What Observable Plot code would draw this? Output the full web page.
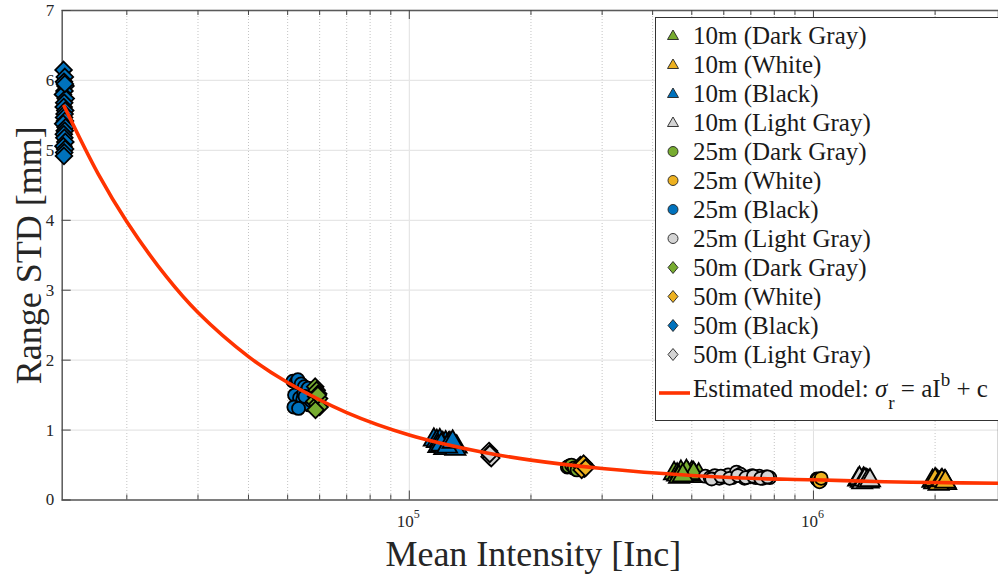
<!DOCTYPE html>
<html>
<head>
<meta charset="utf-8">
<script src="https://cdn.jsdelivr.net/npm/d3@7"></script>
<script src="https://cdn.jsdelivr.net/npm/@observablehq/plot@0.6"></script>
<style>
  html, body { margin: 0; padding: 0; background: #fff; overflow: hidden; }
  #wrap { position: relative; width: 998px; height: 576px; font-family: "Liberation Serif", "Times New Roman", serif; color: #262626; }
  #legend { position: absolute; left: 655px; top: 17px; width: 345px; height: 404px; background: #fff;
            border-top: 1px solid #333; border-left: 1px solid #333; border-bottom: 1px solid #333; box-sizing: border-box; }
  .row { position: absolute; left: 0; height: 29px; line-height: 29px; font-size: 25px; white-space: nowrap; color: #1a1a1a; font-family: "Liberation Serif", serif; }
  .row svg { position: absolute; left: 10px; top: 7px; }
  .row span.t { position: absolute; left: 37px; top: 0; }
</style>
</head>
<body>
<div id="wrap"><div id="legend"></div></div>
<script>
// ---------- Data ----------
const seriesNames = [
  "10m (Dark Gray)", "10m (White)", "10m (Black)", "10m (Light Gray)",
  "25m (Dark Gray)", "25m (White)", "25m (Black)", "25m (Light Gray)",
  "50m (Dark Gray)", "50m (White)", "50m (Black)", "50m (Light Gray)"
];
const seriesFill = ["#77AC30","#EDB120","#0072BD","#D4D4D4","#77AC30","#EDB120","#0072BD","#D4D4D4","#77AC30","#EDB120","#0072BD","#D4D4D4"];
const seriesSymbol = ["triangle","triangle","triangle","triangle","circle","circle","circle","circle","diamond2","diamond2","diamond2","diamond2"];

// 10 m
const i10DarkGray = [452000,460000,470000,480000,490000,500000,510000,520000,465000,485000,505000,475000];
const s10DarkGray = [0.38,0.36,0.40,0.35,0.37,0.39,0.34,0.36,0.33,0.41,0.38,0.35];
const i10White = [1970000,1990000,2010000,2030000,2050000,2070000,2090000,2110000,2130000,2000000,2040000,2080000,2120000];
const s10White = [0.27,0.25,0.28,0.26,0.24,0.27,0.25,0.26,0.24,0.29,0.23,0.28,0.26];
const i10Black = [115000,117000,119000,121000,123000,125000,127000,129000,131000,118000,122000,126000,130000,120000,124000,128000];
const s10Black = [0.86,0.84,0.85,0.81,0.82,0.80,0.79,0.78,0.76,0.77,0.74,0.81,0.73,0.79,0.76,0.83];
const i10LightGray = [1290000,1310000,1330000,1350000,1370000,1300000,1320000,1340000,1360000,1380000];
const s10LightGray = [0.29,0.27,0.30,0.28,0.26,0.31,0.25,0.29,0.27,0.28];
// 25 m
const i25DarkGray = [246000,250000,254000,258000,262000,248000,252000,256000,260000];
const s25DarkGray = [0.47,0.49,0.46,0.44,0.45,0.48,0.50,0.46,0.43];
const i25White = [1020000,1030000,1040000,1025000,1035000,1045000];
const s25White = [0.30,0.28,0.27,0.29,0.26,0.31];
const i25Black = [51500,52500,53000,54000,55000,56000,57000,52000,53500,54500,55500,56500,51800,53200,54800,56200,57200,55200];
const s25Black = [1.70,1.68,1.72,1.66,1.62,1.58,1.55,1.50,1.46,1.44,1.40,1.36,1.33,1.31,1.52,1.60,1.42,1.48];
const i25LightGray = [540000,555000,570000,585000,600000,615000,630000,645000,660000,675000,690000,705000,720000,735000,750000,765000,780000,560000,590000,620000,650000,680000,710000,740000,770000];
const s25LightGray = [0.34,0.32,0.35,0.31,0.33,0.36,0.32,0.40,0.37,0.31,0.33,0.35,0.32,0.34,0.31,0.33,0.32,0.30,0.34,0.31,0.35,0.32,0.34,0.31,0.33];
// 50 m
const i50DarkGray = [58500,59000,59500,58800,59800,58200,59200,60000,58600,59400];
const s50DarkGray = [1.62,1.57,1.52,1.48,1.45,1.41,1.37,1.33,1.29,1.50];
const i50White = [265000,268000,271000,274000,267000,270000,273000];
const s50White = [0.50,0.47,0.45,0.48,0.43,0.52,0.46];
const i50Black = [13950,14050,13980,14100,14020,13900,14120,14000,13960,14080,14030,13990,14060,13920,14110,14040,13970,14010,14090,13940,14070,14000,13980,14050];
const s50Black = [6.15,6.05,5.98,5.92,5.85,5.80,5.74,5.68,5.62,5.57,5.52,5.47,5.42,5.38,5.33,5.28,5.23,5.18,5.12,5.06,5.02,4.97,4.92,5.95];
const i50LightGray = [157500,158500,159000,158000,159500,158200];
const s50LightGray = [0.70,0.67,0.64,0.62,0.60,0.66];

// Estimated model curve
const modelI = [14000,17000,20000,25000,30000,40000,50000,70000,100000,150000,200000,300000,500000,700000,1000000,1500000,2000000,2870000];
const modelS = [5.63,4.66,3.98,3.20,2.68,2.05,1.68,1.25,0.93,0.69,0.57,0.45,0.35,0.31,0.29,0.26,0.25,0.24];

// Axis ticks
const yTicks = [0,1,2,3,4,5,6,7];
const xMajor = [1e5, 1e6];
const xMajorBase = ["10", "10"];
const xMajorExp = ["5", "6"];
const xMinor = [20000,30000,40000,50000,60000,70000,80000,90000,200000,300000,400000,500000,600000,700000,800000,900000,2000000];

const seriesI = [i10DarkGray,i10White,i10Black,i10LightGray,i25DarkGray,i25White,i25Black,i25LightGray,i50DarkGray,i50White,i50Black,i50LightGray];
const seriesS = [s10DarkGray,s10White,s10Black,s10LightGray,s25DarkGray,s25White,s25Black,s25LightGray,s50DarkGray,s50White,s50Black,s50LightGray];

// ---------- Chart ----------
const W = 998, H = 576;
const mL = 61.7, mT = 10, mB = 76.5, mR = 0;
const innerW = W - mL - mR, innerH = H - mT - mB;
const serif = "Liberation Serif, Times New Roman, serif";

const model = modelI.map((d, i) => ({I: d, s: modelS[i]}));

const dotMarks = seriesI.map((arr, k) =>
  Plot.dot(arr.map((d, i) => ({I: d, s: seriesS[k][i]})), {
    x: "I", y: "s",
    symbol: seriesSymbol[k],
    r: seriesSymbol[k] === "circle" ? 6.5 : 7.5,
    fill: seriesFill[k], stroke: "#000", strokeWidth: 1.8
  })
);

const chart = Plot.plot({
  width: W, height: H,
  marginLeft: mL, marginRight: mR, marginTop: mT, marginBottom: mB,
  style: {fontFamily: serif, fontSize: "16px", color: "#262626", background: "#fff"},
  x: {type: "log", domain: [13840, 2870000], axis: null},
  y: {domain: [0, 7], axis: null},
  marks: [
    // grid
    Plot.ruleX(xMinor, {x: d => d, stroke: "#c4c4c4", strokeDasharray: "1,2", strokeWidth: 1}),
    Plot.ruleX(xMajor, {x: d => d, stroke: "#e0e0e0", strokeWidth: 1}),
    Plot.ruleY(yTicks, {y: d => d, stroke: "#e6e6e6", strokeWidth: 1.3}),
    // box
    Plot.frame({stroke: "#5a5a5a", strokeWidth: 1.5}),
    // inward ticks
    Plot.tickX(xMajor, {x: d => d, insetTop: innerH - 9, stroke: "#444"}),
    Plot.tickX(xMinor, {x: d => d, insetTop: innerH - 5, stroke: "#444"}),
    Plot.tickX(xMajor, {x: d => d, insetBottom: innerH - 9, stroke: "#444"}),
    Plot.tickX(xMinor, {x: d => d, insetBottom: innerH - 5, stroke: "#444"}),
    Plot.tickY(yTicks, {y: d => d, insetRight: innerW - 9, stroke: "#444"}),
    // tick labels
    Plot.axisY({ticks: yTicks, tickSize: 0, tickPadding: 8, fontSize: 17, fontFamily: serif, label: null, tickFormat: d => String(d)}),
    Plot.text(xMajor, {x: d => d, text: (d, i) => xMajorBase[i], frameAnchor: "bottom", lineAnchor: "middle", textAnchor: "middle", dy: 22, dx: -4, fontSize: 17, fontFamily: serif}),
    Plot.text(xMajor, {x: d => d, text: (d, i) => xMajorExp[i], frameAnchor: "bottom", lineAnchor: "middle", textAnchor: "start", dy: 14, dx: 4.5, fontSize: 12, fontFamily: serif}),
    // axis titles
    Plot.text(["Mean Intensity [Inc]"], {text: d => d, frameAnchor: "bottom", lineAnchor: "middle", textAnchor: "middle", dy: 54, dx: 3, fontSize: 36, fontFamily: serif}),
    Plot.text(["Range STD [mm]"], {text: d => d, frameAnchor: "left", lineAnchor: "middle", textAnchor: "middle", dx: -33, rotate: -90, fontSize: 36, fontFamily: serif}),
    // data
    ...dotMarks,
    Plot.line(model, {x: "I", y: "s", stroke: "#FF3300", strokeWidth: 3.6, curve: "catmull-rom", clip: true})
  ]
});
const wrap = document.getElementById("wrap");
wrap.insertBefore(chart, wrap.firstChild);

// ---------- Legend ----------
const legend = document.getElementById("legend");
function symbolSvg(sym, fill) {
  let shape;
  if (sym === "triangle") shape = `<polygon points="7,2 12.5,11.5 1.5,11.5" fill="${fill}" stroke="#222" stroke-width="0.9"/>`;
  else if (sym === "circle") shape = `<circle cx="7" cy="7.5" r="5" fill="${fill}" stroke="#222" stroke-width="0.9"/>`;
  else shape = `<polygon points="7,1.5 12,7.5 7,13.5 2,7.5" fill="${fill}" stroke="#222" stroke-width="0.9"/>`;
  return `<svg width="14" height="15" viewBox="0 0 14 15">${shape}</svg>`;
}
seriesNames.forEach((name, k) => {
  const row = document.createElement("div");
  row.className = "row";
  row.style.top = (18 + 29 * k - 14.5 - 1) + "px";
  row.innerHTML = symbolSvg(seriesSymbol[k], seriesFill[k]) + `<span class="t">${name}</span>`;
  legend.appendChild(row);
});
const mrow = document.createElement("div");
mrow.className = "row";
mrow.style.top = (375 - 14.5 - 1 - 4) + "px";
mrow.innerHTML = `<svg width="34" height="6" style="left:3px;top:16px"><line x1="0" y1="3" x2="31" y2="3" stroke="#FF3300" stroke-width="3.6"/></svg>` +
  `<span class="t">Estimated model: <i>σ</i><span style="font-size:19px;position:relative;top:12px;margin-left:1px">r</span> = aI<span style="font-size:19px;position:relative;top:-11px">b</span> + c</span>`;
legend.appendChild(mrow);
</script>
</body>
</html>
